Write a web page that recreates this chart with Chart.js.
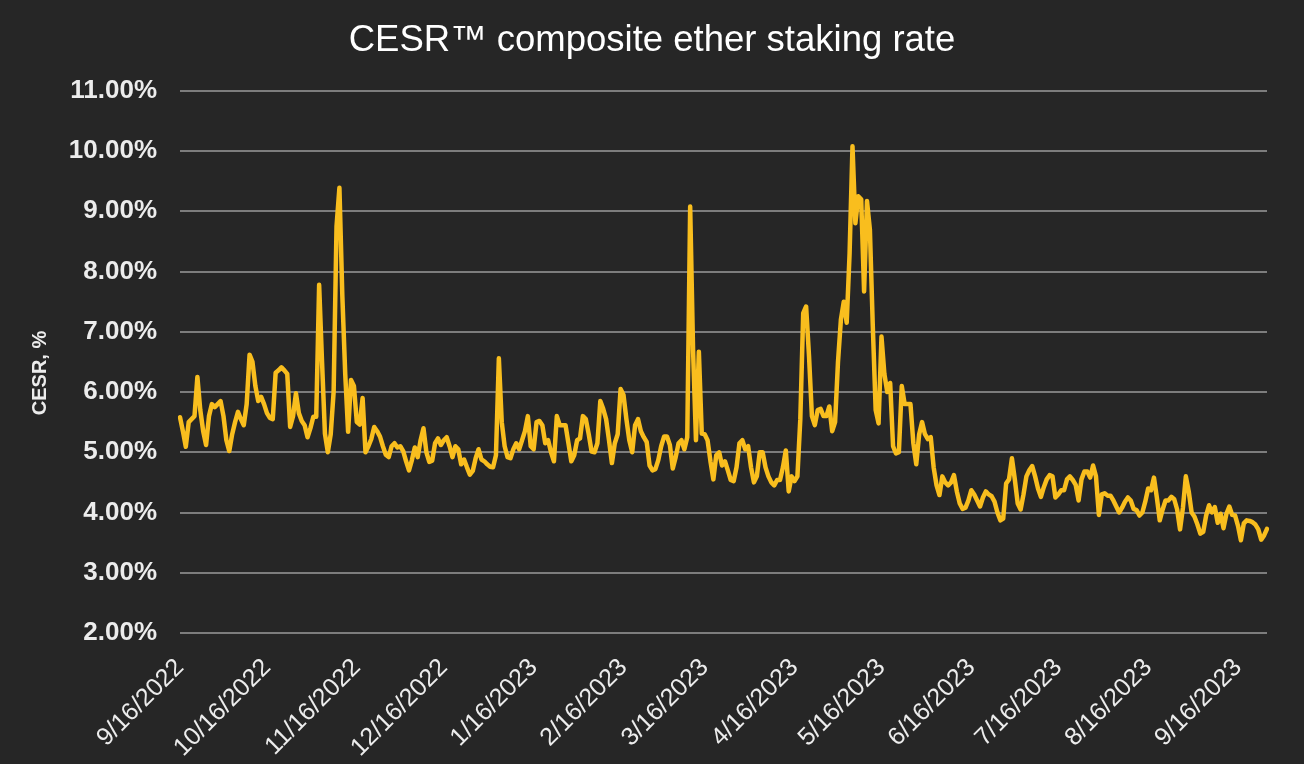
<!DOCTYPE html>
<html>
<head>
<meta charset="utf-8">
<title>CESR composite ether staking rate</title>
<script src="https://cdn.jsdelivr.net/npm/chart.js@4.4.1/dist/chart.umd.min.js"></script>
<style>
  html, body { margin: 0; padding: 0; background: #262626; }
  #wrap { width: 1304px; height: 764px; position: relative; }
</style>
</head>
<body>
<div id="wrap"><canvas id="cesrChart"></canvas></div>
<script>
// ── Data ─────────────────────────────────────────────────────
// daily series, first day 9/16/2022
const START_DATE = [2022, 8, 16];

const X_TICKS = ['9/16/2022', '10/16/2022', '11/16/2022', '12/16/2022', '1/16/2023', '2/16/2023',
  '3/16/2023', '4/16/2023', '5/16/2023', '6/16/2023', '7/16/2023', '8/16/2023', '9/16/2023'];

const Y_TICKS = [2, 3, 4, 5, 6, 7, 8, 9, 10, 11];

// CESR, %
const CESR = [
  5.58, 5.35, 5.09, 5.5, 5.55, 5.6, 6.25, 5.7, 5.35, 5.12,
  5.6, 5.8, 5.75, 5.8, 5.85, 5.6, 5.2, 5.02, 5.3, 5.5,
  5.67, 5.55, 5.45, 5.8, 6.62, 6.5, 6.1, 5.85, 5.92, 5.8,
  5.65, 5.57, 5.55, 6.32, 6.36, 6.41, 6.36, 6.3, 5.42, 5.6,
  5.98, 5.65, 5.52, 5.45, 5.25, 5.4, 5.59, 5.59, 7.78, 6.5,
  5.31, 5.0, 5.3, 6.0, 8.75, 9.39, 7.6, 6.3, 5.34, 6.2,
  6.1, 5.5, 5.46, 5.9, 5.0, 5.1, 5.22, 5.42, 5.35, 5.26,
  5.1, 4.96, 4.92, 5.1, 5.15, 5.08, 5.1, 5.02, 4.85, 4.7,
  4.87, 5.08, 4.92, 5.2, 5.4, 5.0, 4.84, 4.86, 5.15, 5.23,
  5.12, 5.2, 5.25, 5.1, 4.92, 5.1, 5.05, 4.8, 4.88, 4.75,
  4.63, 4.69, 4.9, 5.05, 4.88, 4.85, 4.8, 4.76, 4.75, 4.95,
  6.56, 5.5, 5.1, 4.92, 4.9, 5.05, 5.15, 5.05, 5.2, 5.35,
  5.6, 5.1, 5.05, 5.5, 5.52, 5.45, 5.15, 5.2, 5.0, 4.85,
  5.6, 5.45, 5.45, 5.45, 5.15, 4.85, 4.95, 5.2, 5.23, 5.6,
  5.55, 5.3, 5.01, 5.0, 5.15, 5.85, 5.72, 5.55, 5.2, 4.82,
  5.15, 5.3, 6.05, 5.95, 5.55, 5.2, 5.0, 5.45, 5.55, 5.35,
  5.25, 5.17, 4.78, 4.7, 4.72, 4.87, 5.1, 5.26, 5.26, 5.12,
  4.73, 4.92, 5.15, 5.2, 5.05, 5.25, 9.08, 6.7, 5.2, 6.67,
  5.31, 5.3, 5.2, 4.85, 4.55, 4.95, 5.0, 4.78, 4.85, 4.7,
  4.54, 4.52, 4.75, 5.15, 5.2, 5.05, 5.1, 4.75, 4.5, 4.6,
  5.0, 5.0, 4.75, 4.6, 4.5, 4.45, 4.54, 4.54, 4.75, 5.03,
  4.35, 4.6, 4.52, 4.6, 5.55, 7.31, 7.42, 6.6, 5.6, 5.45,
  5.7, 5.72, 5.6, 5.6, 5.76, 5.35, 5.5, 6.5, 7.2, 7.5,
  7.15, 8.3, 10.08, 8.8, 9.25, 9.2, 7.67, 9.17, 8.7, 7.1,
  5.7, 5.48, 6.92, 6.3, 6.0, 6.15, 5.1, 4.98, 5.0, 6.1,
  5.8, 5.8, 5.8, 5.15, 4.8, 5.3, 5.5, 5.3, 5.22, 5.25,
  4.75, 4.45, 4.29, 4.6, 4.5, 4.45, 4.5, 4.62, 4.35, 4.15,
  4.06, 4.08, 4.2, 4.37, 4.3, 4.2, 4.1, 4.25, 4.35, 4.3,
  4.27, 4.18, 4.0, 3.87, 3.9, 4.48, 4.55, 4.9, 4.55, 4.15,
  4.05, 4.3, 4.6, 4.7, 4.77, 4.6, 4.4, 4.26, 4.42, 4.55,
  4.62, 4.6, 4.25, 4.3, 4.37, 4.37, 4.55, 4.6, 4.54, 4.46,
  4.2, 4.55, 4.68, 4.68, 4.58, 4.78, 4.6, 3.96, 4.3, 4.32,
  4.28, 4.28, 4.2, 4.1, 4.0, 4.08, 4.18, 4.25, 4.2, 4.06,
  4.04, 3.95, 4.0, 4.18, 4.4, 4.37, 4.58, 4.25, 3.87, 4.05,
  4.2, 4.2, 4.26, 4.22, 4.05, 3.72, 4.08, 4.6, 4.35, 4.0,
  3.93, 3.8, 3.65, 3.68, 3.95, 4.12, 4.0, 4.09, 3.83, 3.98,
  3.74, 3.98, 4.1, 3.96, 3.95, 3.78, 3.54, 3.82, 3.87, 3.86,
  3.84, 3.8, 3.72, 3.55, 3.62, 3.73
];

// one M/D/YYYY label per day
const DATES = CESR.map((v, i) => {
  const d = new Date(Date.UTC(START_DATE[0], START_DATE[1], START_DATE[2] + i));
  return (d.getUTCMonth() + 1) + '/' + d.getUTCDate() + '/' + d.getUTCFullYear();
});

// ── Chart ────────────────────────────────────────────────────
const FONT = "'Liberation Sans', Arial, Helvetica, sans-serif";
const TEXT = '#ececec';
const GRID = '#7d7d7d';

new Chart(document.getElementById('cesrChart'), {
  type: 'line',
  data: {
    labels: DATES,
    datasets: [{
      label: 'CESR',
      data: CESR,
      borderColor: '#f9be1e',
      borderWidth: 4.5,
      borderJoinStyle: 'round',
      borderCapStyle: 'round',
      pointRadius: 0,
      tension: 0,
      fill: false
    }]
  },
  options: {
    responsive: true,
    maintainAspectRatio: false,
    animation: false,
    layout: { padding: 0 },
    plugins: {
      legend: { display: false },
      tooltip: { enabled: false },
      title: {
        display: true,
        text: 'CESR™ composite ether staking rate',
        color: '#ffffff',
        font: { family: FONT, size: 36.5, weight: 'normal', lineHeight: 1.2 },
        padding: { top: 19, bottom: 28 }
      }
    },
    scales: {
      x: {
        type: 'category',
        grid: { display: false },
        border: { display: false },
        ticks: {
          autoSkip: false,
          minRotation: 45,
          maxRotation: 45,
          padding: 12,
          color: TEXT,
          font: { family: FONT, size: 25 },
          callback: function (val) {
            const lbl = this.getLabelForValue(val);
            return X_TICKS.includes(lbl) ? lbl : '';
          }
        },
        // fixed axis height and room on the right of the plot
        afterFit: (scale) => { scale.height = 131; scale.paddingRight = 37; }
      },
      y: {
        min: Y_TICKS[0],
        max: Y_TICKS[Y_TICKS.length - 1],
        afterBuildTicks: (scale) => { scale.ticks = Y_TICKS.map(v => ({ value: v })); },
        grid: { color: GRID, lineWidth: 2, drawTicks: false },
        border: { display: false },
        ticks: {
          padding: 23,
          color: TEXT,
          font: { family: FONT, size: 26, weight: 'bold' },
          callback: (v) => v.toFixed(2) + '%'
        },
        title: {
          display: true,
          // trailing spaces push the rotated title a little below the middle
          text: 'CESR, %    ',
          color: TEXT,
          font: { family: FONT, size: 20, weight: 'bold', lineHeight: 1.2 },
          padding: { top: 28, bottom: 0 }
        },
        afterFit: (scale) => { scale.width = 180; }
      }
    }
  }
});
</script>
</body>
</html>
